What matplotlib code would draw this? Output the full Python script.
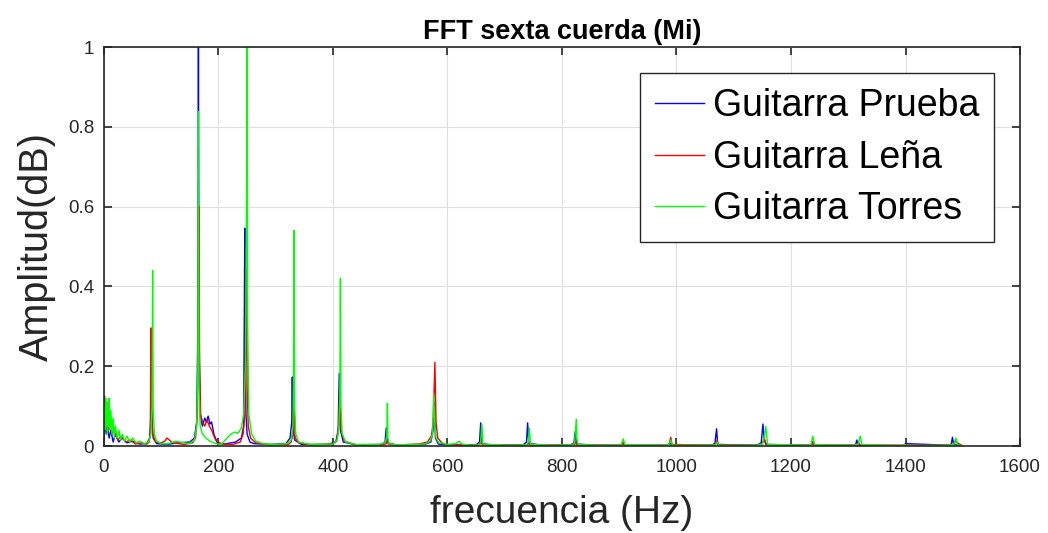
import matplotlib
matplotlib.use('Agg')
import matplotlib.pyplot as plt
import numpy as np

plt.rcParams['font.family'] = ['Liberation Sans', 'DejaVu Sans']

# Guitarra Prueba (blue)
f_prueba = [0, 2, 4, 6, 9, 12, 16, 20, 26, 32, 40, 50, 62, 75,
            80, 82, 83, 84, 86, 92,
            110, 130, 150, 158, 162, 164, 165, 166, 168,
            172, 176, 179, 182, 185, 188, 192, 198,
            210, 230, 240, 244, 246, 247, 248, 250, 255, 262,
            290, 318, 325, 328, 329, 330, 333, 345,
            390, 405, 409, 411, 413, 418, 440,
            485, 491, 493, 495, 510,
            560, 571, 575, 577, 579, 584, 600,
            650, 656, 658, 660, 680,
            732, 738, 740, 742, 770,
            815, 821, 823, 825, 860,
            900, 905, 907, 909, 980, 987, 989, 991,
            1060, 1067, 1070, 1072, 1140, 1148, 1151, 1153, 1156,
            1230, 1236, 1238, 1240, 1310, 1313, 1315, 1317,
            1395, 1398, 1400, 1475, 1480, 1482, 1484, 1499]
a_prueba = [0.02, 0.06, 0.03, 0.05, 0.02, 0.04, 0.01, 0.03, 0.01, 0.02, 0.008, 0.012, 0.005, 0.006,
            0.02, 0.08, 0.29, 0.06, 0.02, 0.006,
            0.004, 0.008, 0.01, 0.02, 0.06, 0.3, 1.0, 0.3, 0.08,
            0.05, 0.07, 0.06, 0.075, 0.055, 0.06, 0.03, 0.008,
            0.005, 0.01, 0.02, 0.05, 0.546, 0.2, 0.08, 0.03, 0.01, 0.006,
            0.004, 0.006, 0.02, 0.06, 0.173, 0.05, 0.015, 0.004,
            0.004, 0.01, 0.04, 0.182, 0.04, 0.01, 0.003,
            0.004, 0.01, 0.045, 0.008, 0.003,
            0.004, 0.01, 0.04, 0.11, 0.02, 0.005, 0.003,
            0.003, 0.01, 0.058, 0.006, 0.002,
            0.003, 0.01, 0.058, 0.006, 0.002,
            0.003, 0.008, 0.036, 0.005, 0.002,
            0.002, 0.004, 0.008, 0.002, 0.002, 0.004, 0.008, 0.002,
            0.002, 0.006, 0.043, 0.004, 0.002, 0.008, 0.055, 0.02, 0.004,
            0.002, 0.004, 0.01, 0.002, 0.002, 0.004, 0.015, 0.002,
            0.001, 0.003, 0.006, 0.002, 0.005, 0.022, 0.004, 0.001]

# Guitarra Leña (red)
f_lena = [0, 1, 3, 5, 7, 10, 14, 18, 24, 30, 38, 46, 55, 65, 75,
          79, 81, 82, 83, 85, 90, 100, 106, 110, 120, 140, 155,
          160, 163, 165, 166, 167, 169, 172, 176, 180, 184, 188, 195, 205,
          225, 238, 243, 246, 248, 249, 250, 252, 256, 265, 290,
          322, 327, 330, 332, 334, 340, 360,
          400, 407, 410, 412, 414, 420, 440,
          488, 493, 495, 497, 510,
          550, 565, 572, 575, 578, 580, 583, 590, 600, 620,
          650, 657, 659, 661, 680, 735, 740, 742, 744, 770,
          815, 822, 824, 826, 860, 900, 905, 907, 909,
          980, 987, 990, 992, 1060, 1068, 1071, 1073,
          1140, 1150, 1153, 1155, 1158, 1230, 1237, 1239, 1241,
          1310, 1316, 1318, 1320, 1400, 1480, 1484, 1486, 1499]
a_lena = [0.1, 0.125, 0.05, 0.11, 0.04, 0.08, 0.03, 0.04, 0.015, 0.025, 0.01, 0.015, 0.005, 0.008, 0.005,
          0.01, 0.04, 0.296, 0.08, 0.03, 0.01, 0.008, 0.012, 0.02, 0.008, 0.004, 0.008,
          0.02, 0.08, 0.3, 0.6, 0.2, 0.08, 0.06, 0.05, 0.065, 0.05, 0.04, 0.015, 0.005,
          0.004, 0.01, 0.03, 0.08, 0.3, 0.5, 0.15, 0.05, 0.02, 0.008, 0.003,
          0.004, 0.01, 0.03, 0.1, 0.02, 0.008, 0.003,
          0.005, 0.015, 0.05, 0.15, 0.04, 0.012, 0.003,
          0.003, 0.006, 0.015, 0.005, 0.002,
          0.005, 0.01, 0.025, 0.06, 0.21, 0.06, 0.02, 0.008, 0.003, 0.003,
          0.002, 0.005, 0.012, 0.003, 0.002, 0.002, 0.004, 0.01, 0.002, 0.002,
          0.002, 0.004, 0.012, 0.002, 0.002, 0.002, 0.004, 0.01, 0.002,
          0.002, 0.005, 0.022, 0.004, 0.002, 0.004, 0.015, 0.003,
          0.002, 0.005, 0.02, 0.01, 0.003, 0.002, 0.004, 0.012, 0.002,
          0.002, 0.004, 0.01, 0.002, 0.002, 0.002, 0.004, 0.012, 0.001]

# Guitarra Torres (green)
f_torres = [0, 1, 2, 3, 4, 5, 6, 7, 8, 9, 10, 12, 14, 16, 18, 20, 23, 26, 29, 32, 36, 40, 45, 50, 56, 62, 70, 78,
            82, 84, 85, 86, 88, 92, 100, 110, 125, 140, 150, 158, 162,
            164, 165, 166, 168, 172, 178, 185, 195, 205, 215, 222, 228, 234, 240, 244,
            247, 249, 250, 251, 253, 258, 265, 280, 300, 320,
            327, 330, 331, 332, 333, 335, 340, 360, 400,
            407, 410, 412, 413, 414, 416, 422, 440, 480,
            491, 494, 495, 496, 498, 510, 560,
            570, 574, 576, 577, 578, 580, 585, 600, 615, 620, 625, 640,
            655, 658, 660, 662, 700, 738, 741, 743, 745, 780,
            818, 822, 825, 826, 828, 860, 900, 904, 907, 910, 980, 987, 990, 993,
            1060, 1068, 1071, 1074, 1140, 1150, 1153, 1156, 1159, 1230, 1235, 1238, 1241,
            1310, 1317, 1321, 1324, 1395, 1399, 1402, 1475, 1485, 1488, 1491, 1499]
a_torres = [0.05, 0.1, 0.04, 0.12, 0.06, 0.11, 0.03, 0.1, 0.05, 0.12, 0.04, 0.09, 0.03, 0.07, 0.02, 0.05, 0.02, 0.04,
            0.015, 0.03, 0.012, 0.025, 0.01, 0.02, 0.008, 0.012, 0.006, 0.01,
            0.03, 0.1, 0.44, 0.1, 0.03, 0.012, 0.006, 0.005, 0.012, 0.008, 0.006, 0.015, 0.05,
            0.2, 0.838, 0.15, 0.05, 0.03, 0.02, 0.012, 0.006, 0.004, 0.02, 0.03, 0.035, 0.032, 0.045, 0.08,
            0.2, 0.6, 1.0, 0.3, 0.08, 0.03, 0.012, 0.005, 0.004, 0.006,
            0.015, 0.05, 0.15, 0.54, 0.1, 0.03, 0.01, 0.004, 0.005,
            0.015, 0.04, 0.12, 0.42, 0.1, 0.03, 0.01, 0.004, 0.004,
            0.008, 0.025, 0.107, 0.02, 0.006, 0.003, 0.005,
            0.012, 0.03, 0.13, 0.09, 0.05, 0.02, 0.008, 0.004, 0.006, 0.012, 0.005, 0.002,
            0.003, 0.01, 0.055, 0.005, 0.002, 0.003, 0.01, 0.045, 0.004, 0.002,
            0.003, 0.008, 0.067, 0.02, 0.004, 0.002, 0.002, 0.005, 0.018, 0.003, 0.002, 0.004, 0.015, 0.002,
            0.002, 0.003, 0.01, 0.002, 0.002, 0.005, 0.02, 0.049, 0.004, 0.002, 0.004, 0.025, 0.003,
            0.002, 0.004, 0.025, 0.003, 0.001, 0.004, 0.001, 0.002, 0.005, 0.02, 0.003, 0.001]

series = [
    (f_prueba, a_prueba, '#0000ff', 'Guitarra Prueba'),
    (f_lena, a_lena, '#ff0000', 'Guitarra Leña'),
    (f_torres, a_torres, '#00ff00', 'Guitarra Torres'),
]

fig = plt.figure(figsize=(10.48, 5.33), dpi=100)
ax = fig.add_axes([0.0992, 0.1632, 0.8741, 0.7486])

for f, a, c, lab in series:
    ax.plot(f, a, color=c, linewidth=1.0, label=lab)

ax.set_xlim(0, 1600)
ax.set_ylim(0, 1)
ax.set_xticks(np.arange(0, 1601, 200))
ax.set_yticks([0, 0.2, 0.4, 0.6, 0.8, 1])
ax.set_yticklabels(['0', '0.2', '0.4', '0.6', '0.8', '1'])
ax.grid(True, color='#dfdfdf', linewidth=0.8)
ax.set_axisbelow(True)
for s in ax.spines.values():
    s.set_color('#262626')
    s.set_linewidth(1.2)
ax.tick_params(direction='in', top=True, right=True, length=6, width=1.2,
               colors='#262626', labelsize=13.5, labelcolor='#262626', pad=7)
ax.tick_params(axis='x', pad=9)

ax.set_title('FFT sexta cuerda (Mi)', fontsize=19.5, fontweight='bold', pad=6)
ax.set_xlabel('frecuencia (Hz)', fontsize=28, color='#262626', labelpad=14)
ax.set_ylabel('Amplitud(dB)', fontsize=28.5, color='#262626', labelpad=9)

leg = ax.legend(loc='upper right', bbox_to_anchor=(0.972, 0.935), fontsize=27,
                frameon=True, fancybox=False, framealpha=1, edgecolor='#262626',
                handlelength=1.3, handletextpad=0.25, borderpad=0.4, labelspacing=0.42,
                borderaxespad=0)
leg.get_frame().set_linewidth(1.0)

fig.savefig('out.png', dpi=100)
